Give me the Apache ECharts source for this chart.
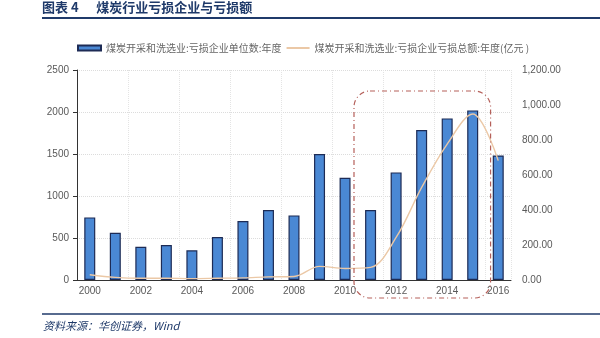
<!DOCTYPE html>
<html><head><meta charset="utf-8">
<script src="https://cdn.jsdelivr.net/npm/echarts@6/dist/echarts.min.js"></script>
<style>html,body{margin:0;padding:0;background:#fff}#c{width:600px;height:338px}</style>
</head><body><div id="c"></div>
<script>
const years = ['2000','2001','2002','2003','2004','2005','2006','2007','2008','2009','2010','2011','2012','2013','2014','2015','2016'];
const lossCompanies = [745,563,396,417,353,512,702,833,769,1500,1218,833,1281,1786,1924,2019,1483];
const lossAmount = [30,15,10,10,8,10,12,18,20,78,66,72,243,529,777,949,682];
const leftTicks = [0,2500,500];
const rightTicks = [0,1200,200];
const seriesNames = ['煤炭开采和洗选业:亏损企业单位数:年度','煤炭开采和洗选业:亏损企业亏损总额:年度(亿元 )'];
const titleText = '图表 4      煤炭行业亏损企业与亏损额';
const sourceText = '资料来源：华创证券，Wind';

const FONT = '"Liberation Sans","Noto Sans CJK SC",sans-serif';
const chart = echarts.init(document.getElementById('c'));
const option = {
  animation:false,
  backgroundColor:'#fff',
  textStyle:{fontFamily:FONT},
  grid:{left:77,right:89,top:70,bottom:58},
  legend:{
    top:38,left:72,itemGap:4,itemWidth:23,itemHeight:5,
    textStyle:{fontSize:10,color:'#666',fontFamily:'"Noto Sans CJK SC",sans-serif'},
    data:[{name:seriesNames[0],icon:'rect'},{name:seriesNames[1],itemStyle:{opacity:0}}]
  },
  xAxis:{
    type:'category',data:years,boundaryGap:true,
    axisLine:{lineStyle:{color:'#333',width:1}},
    axisTick:{interval:1,length:4,lineStyle:{color:'#333'}},
    axisLabel:{interval:1,color:'#595959',fontSize:10,margin:6},
    splitLine:{show:true,interval:1,lineStyle:{color:'#e4e4e4',type:'dotted'}}
  },
  yAxis:[{
    type:'value',min:leftTicks[0],max:leftTicks[1],interval:leftTicks[2],
    axisLine:{show:true,lineStyle:{color:'#333'}},
    axisTick:{show:true,inside:false,length:4,lineStyle:{color:'#333'}},
    axisLabel:{color:'#595959',fontSize:10,margin:8,formatter:v=>String(v)},
    splitLine:{lineStyle:{color:'#dcdcdc',type:'dotted'}}
  },{
    type:'value',min:rightTicks[0],max:rightTicks[1],interval:rightTicks[2],
    axisLine:{show:false},axisTick:{show:false},
    axisLabel:{color:'#595959',fontSize:10,margin:11,
      formatter:v=>v.toLocaleString('en-US',{minimumFractionDigits:2,maximumFractionDigits:2})},
    splitLine:{show:false}
  }],
  series:[{
    name:seriesNames[0],type:'bar',data:lossCompanies,barWidth:11,yAxisIndex:0,
    itemStyle:{color:'#4a88d4',borderColor:'#1d2b55',borderWidth:1.2}
  },{
    name:seriesNames[1],type:'line',data:lossAmount,yAxisIndex:1,smooth:0.35,
    symbol:'none',lineStyle:{color:'#ebc8a6',width:1.4},itemStyle:{color:'#ebc8a6'}
  }],
  graphic:[
    {type:'text',left:42,top:1,style:{text:titleText,fontSize:13,fontWeight:'bold',fill:'#1f3a6a',fontFamily:'"Noto Sans CJK SC",sans-serif'}},
    {type:'line',shape:{x1:42,y1:18,x2:600,y2:18},style:{stroke:'#1f3a6a',lineWidth:2}},
    {type:'line',shape:{x1:42,y1:314,x2:600,y2:314},style:{stroke:'#1f3a6a',lineWidth:1.5}},
    {type:'text',left:43,top:320,style:{text:sourceText,fontSize:11,fontStyle:'italic',fill:'#1f3a6a',fontFamily:'"Noto Sans CJK SC",sans-serif'}}
  ]
};
chart.setOption(option);
const step = chart.convertToPixel({xAxisIndex:0}, years[11]) - chart.convertToPixel({xAxisIndex:0}, years[10]);
const xl = chart.convertToPixel({xAxisIndex:0}, years[10]) + 0.35*step;
const xr = chart.convertToPixel({xAxisIndex:0}, years[15]) + 0.7*step;
const yt = chart.convertToPixel({yAxisIndex:0}, 2250);
const yb = chart.convertToPixel({yAxisIndex:0}, 0) + 18;
option.graphic.push({type:'rect',shape:{x:xl,y:yt,width:xr-xl,height:yb-yt,r:16},
  style:{fill:'none',stroke:'#b5605a',lineWidth:1.2,lineDash:[5,3,1,3]},z:100});
chart.setOption({graphic:option.graphic});
</script></body></html>
